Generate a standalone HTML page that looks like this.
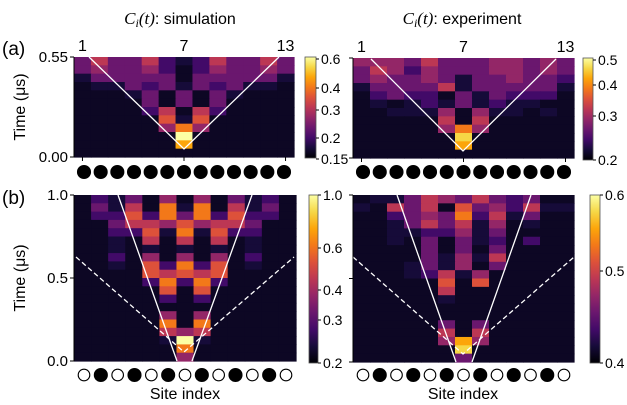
<!DOCTYPE html>
<html><head><meta charset="utf-8"><style>
body{margin:0;background:#fff;width:627px;height:405px;overflow:hidden}
svg{display:block;font-family:"Liberation Sans",sans-serif}
</style></head><body>
<svg id="fig" width="627" height="405" viewBox="0 0 627 405">
<defs>
<linearGradient id="inf" x1="0" y1="1" x2="0" y2="0">
<stop offset="0" stop-color="#000004"/><stop offset="0.1" stop-color="#160b39"/><stop offset="0.2" stop-color="#420a68"/><stop offset="0.3" stop-color="#6a176e"/><stop offset="0.4" stop-color="#932667"/><stop offset="0.5" stop-color="#bc3754"/><stop offset="0.6" stop-color="#dd513a"/><stop offset="0.7" stop-color="#f37819"/><stop offset="0.8" stop-color="#fca50a"/><stop offset="0.9" stop-color="#f6d746"/><stop offset="1" stop-color="#fcffa4"/>
</linearGradient>
</defs>
<g id="heat"></g>
<g fill="#000" font-size="16">
<text x="180" y="24" text-anchor="middle"><tspan font-family="Liberation Serif" font-style="italic" font-size="17">C<tspan font-size="12" dy="3">i</tspan><tspan dy="-3">(t)</tspan></tspan>: simulation</text>
<text x="462" y="24" text-anchor="middle"><tspan font-family="Liberation Serif" font-style="italic" font-size="17">C<tspan font-size="12" dy="3">i</tspan><tspan dy="-3">(t)</tspan></tspan>: experiment</text>
<text x="2" y="55" font-size="19">(a)</text>
<text x="2" y="204" font-size="19">(b)</text>
<text transform="translate(25,107) rotate(-90)" text-anchor="middle">Time (μs)</text>
<text transform="translate(25,278) rotate(-90)" text-anchor="middle">Time (μs)</text>
<text x="185" y="399" text-anchor="middle">Site index</text>
<text x="463" y="399" text-anchor="middle">Site index</text>
</g>
</svg>
<script>
const levels = [0.06,0.1,0.2,0.3,0.4,0.5,0.6,0.7,0.8,0.9,1.0];
const siteTicks = ["1","7","13"];
const simTopRows = [
[3,5,3,3,5,2,1,2,5,3,3,5,3],
[3,4,3,3,4,2,0,2,4,3,3,4,3],
[1,3,3,3,3,3,0,3,3,3,3,3,1],
[0,1,1,3,2,3,1,3,2,3,1,1,0],
[0,0,0,1,3,0,3,0,3,1,0,0,0],
[0,0,0,0,3,0,3,0,3,0,0,0,0],
[0,0,0,0,2,5,0,5,2,0,0,0,0],
[0,0,0,0,0,6,1,6,0,0,0,0,0],
[0,0,0,0,0,4,7,4,0,0,0,0,0],
[0,0,0,0,0,0,10,0,0,0,0,0,0],
[0,0,0,0,0,0,8,0,0,0,0,0,0],
[0,0,0,0,0,0,0,0,0,0,0,0,0]];
const expTopRows = [
[4,4,4,3,5,3,3,3,4,4,3,4,3],
[3,5,4,2,4,3,3,3,4,4,3,4,3],
[3,4,3,3,4,3,1,3,3,4,3,3,2],
[1,3,3,3,3,5,1,3,3,3,3,3,1],
[0,2,3,2,2,0,3,1,3,2,2,2,0],
[0,1,0,1,2,1,3,1,2,1,1,0,0],
[0,0,1,1,1,4,0,4,1,1,0,1,0],
[0,0,0,0,0,5,0,5,0,0,0,0,0],
[0,0,0,0,0,4,7,4,0,0,0,0,0],
[0,0,0,0,0,0,9,0,0,0,0,0,0],
[0,0,0,0,0,0,8,0,0,0,0,0,0],
[0,0,0,0,0,0,0,0,0,0,0,0,0]];
const simBotRows = [
[0,2,1,3,0,4,0,4,0,3,1,2,0],
[0,3,1,5,0,7,1,7,0,5,1,3,0],
[0,2,2,6,2,7,3,7,2,6,2,2,0],
[0,0,3,5,5,4,6,4,5,5,3,0,0],
[0,0,2,2,6,1,7,1,6,2,2,0,0],
[0,0,1,0,5,0,5,0,5,0,1,0,0],
[0,0,1,0,1,0,1,0,1,0,1,0,0],
[0,0,2,0,4,0,4,0,4,0,2,0,0],
[0,0,1,0,6,2,7,2,6,0,1,0,0],
[0,0,0,0,6,5,6,5,6,0,0,0,0],
[0,0,0,0,2,7,2,7,2,0,0,0,0],
[0,0,0,0,0,6,0,6,0,0,0,0,0],
[0,0,0,0,0,2,0,2,0,0,0,0,0],
[0,0,0,0,0,0,0,0,0,0,0,0,0],
[0,0,0,0,0,4,0,4,0,0,0,0,0],
[0,0,0,0,0,7,0,7,0,0,0,0,0],
[0,0,0,0,0,5,4,5,0,0,0,0,0],
[0,0,0,0,0,1,10,1,0,0,0,0,0],
[0,0,0,0,0,0,7,0,0,0,0,0,0],
[0,0,0,0,0,0,4,0,0,0,0,0,0]];
const expBotRows = [
[0,1,1,3,5,4,3,5,3,2,3,0,0],
[1,0,5,3,5,0,6,3,4,2,5,1,1],
[0,0,2,3,4,3,7,2,5,1,3,0,0],
[0,0,1,3,5,3,5,1,4,0,1,0,0],
[0,0,1,1,2,2,4,1,3,0,0,0,0],
[0,0,1,0,3,0,3,1,2,0,2,0,0],
[0,0,0,0,3,0,3,0,3,0,0,0,0],
[0,0,0,0,3,1,4,1,5,0,0,0,0],
[0,0,0,1,3,1,4,0,3,0,0,0,0],
[0,0,0,1,2,5,1,4,0,0,0,0,0],
[0,0,0,0,0,6,0,6,0,0,0,0,0],
[0,0,0,0,0,5,0,0,0,0,0,0,0],
[0,0,0,0,0,1,0,0,0,0,0,0,0],
[0,0,0,0,0,0,0,0,0,0,0,0,0],
[0,0,0,0,0,0,0,0,0,0,0,0,0],
[0,0,0,0,0,3,0,3,0,0,0,0,0],
[0,0,0,0,0,5,0,5,0,0,0,0,0],
[0,0,0,0,0,4,8,4,0,0,0,0,0],
[0,0,0,0,0,0,9,0,0,0,0,0,0],
[0,0,0,0,0,0,3,0,0,0,0,0,0]];
const cbarTopLeft = ["0.6","0.4","0.3","0.2","0.15"];
const cbarTopRight = ["0.5","0.4","0.3","0.2"];
const cbarBotLeft = ["1.0","0.6","0.4","0.3","0.2"];
const cbarBotRight = ["0.6","0.5","0.4"];

const stops=[[0,0,4],[22,11,57],[66,10,104],[106,23,110],[147,38,103],[188,55,84],[221,81,58],[243,120,25],[252,165,10],[246,215,70],[252,255,164]];
function cmap(v){v=Math.max(0,Math.min(1,v));const f=v*10,i=Math.min(9,Math.floor(f)),t=f-i;const a=stops[i],b=stops[i+1];return `rgb(${a.map((c,k)=>Math.round(c+(b[k]-c)*t)).join(',')})`;}
const NS="http://www.w3.org/2000/svg";
const svg=document.getElementById('fig');
function mk(tag,attrs,parent){const e=document.createElementNS(NS,tag);for(const k in attrs)e.setAttribute(k,attrs[k]);(parent||svg).appendChild(e);return e;}
function txt(s,x,y,anchor,size,parent){const t=mk('text',{x:x,y:y,'text-anchor':anchor,'font-size':size||14,fill:'#000'},parent);t.textContent=s;return t;}

function panel(name,rows,x0,y0,x1,y1,lines,filledPattern,yTicks,topTicks,cb,cbLabels,cbPos){
  const g=mk('g',{});
  
  
  const nC=13,nR=rows.length,cw=(x1-x0)/nC,rh=(y1-y0)/nR;
  const xs=i=>x0+i*cw, ys=r=>y0+r*rh;
  mk('rect',{x:x0,y:y0,width:x1-x0,height:y1-y0,fill:'#000004'},g);
  rows.forEach((row,r)=>row.forEach((v,c)=>{
    const cell=mk('rect',{x:xs(c).toFixed(2),y:ys(r).toFixed(2),width:(cw+0.6).toFixed(2),height:(rh+0.6).toFixed(2),fill:cmap(levels[v])},g);
    
    
  }));
  lines.forEach(l=>{const p=mk('polyline',{points:l.pts,fill:'none',stroke:'#fff','stroke-width':1.3,'stroke-dasharray':l.dash||'none'},g);
    
    });
  mk('line',{x1:x0,y1:y0,x2:x0,y2:y1,stroke:'#000','stroke-width':1},g);
  yTicks.forEach(t=>{const y=y0+(1-t.f)*(y1-y0);mk('line',{x1:x0-4,y1:y,x2:x0,y2:y,stroke:'#000'},g);if(t.l)txt(t.l,x0-6,y+5,'end',15,g);});
  if(topTicks){[0,6,12].forEach((c,k)=>{const x=x0+(c+0.5)*cw;mk('line',{x1:x,y1:y1,x2:x,y2:y1+4,stroke:'#000'},g);txt(siteTicks[k],x,y0-6,'middle',16,g);});}
  const cy=(y1>300)?375:172;
  for(let i=0;i<13;i++){const cx=x0+10+i*((x1-x0-20)/12);const filled=filledPattern(i);
    const c=mk('circle',{cx:cx,cy:cy,r:filled?6.5:5.8,fill:filled?'#000':'#fff',stroke:'#000','stroke-width':1.1},g);
    
    }
  if(cb){const cbg=mk('g',{},svg);
    
    
    mk('rect',{x:cb.x,y:cb.y0,width:cb.w,height:cb.y1-cb.y0,fill:'url(#inf)',stroke:'#555','stroke-width':0.8},cbg);
    cbLabels.forEach((l,k)=>{const y=cbPos[k];mk('line',{x1:cb.x+cb.w,y1:y,x2:cb.x+cb.w+3,y2:y,stroke:'#000'},cbg);txt(l,cb.x+cb.w+5,y+5,'start',14,cbg);});}
}
panel('sim-top-heatmap',simTopRows,74,57,294,157,[{pts:'89,57 184,149 279,57'}],()=>true,[{f:1,l:'0.55'},{f:0,l:'0.00'}],true,{x:305,y0:57,y1:158,w:11},cbarTopLeft,[59,88,110,138,159]);
panel('exp-top-heatmap',expTopRows,353,58,574,158,[{pts:'371,59 463,151 556,59'}],()=>true,[{f:1},{f:0}],true,{x:583,y0:58,y1:160,w:10},cbarTopRight,[60,85,116,160]);
panel('sim-bottom-heatmap',simBotRows,74,195,296,361,[{pts:'118,195 177,361'},{pts:'192,361 252,195'},{pts:'76,257 184,352 294,257',dash:'5,3'}],i=>i%2==1,[{f:1,l:'1.0'},{f:0.5,l:'0.5'},{f:0,l:'0.0'}],false,{x:309,y0:195,y1:363,w:9},cbarBotLeft,[195,248,290,320,363]);
panel('exp-bottom-heatmap',expBotRows,353,195,574,362,[{pts:'397,195 456,362'},{pts:'472,362 531,195'},{pts:'353,257 463,354 574,257',dash:'5,3'}],i=>i%2==1,[{f:1},{f:0.5},{f:0}],false,{x:590,y0:195,y1:363,w:10},cbarBotRight,[195,271,363]);
</script>
</body></html>
